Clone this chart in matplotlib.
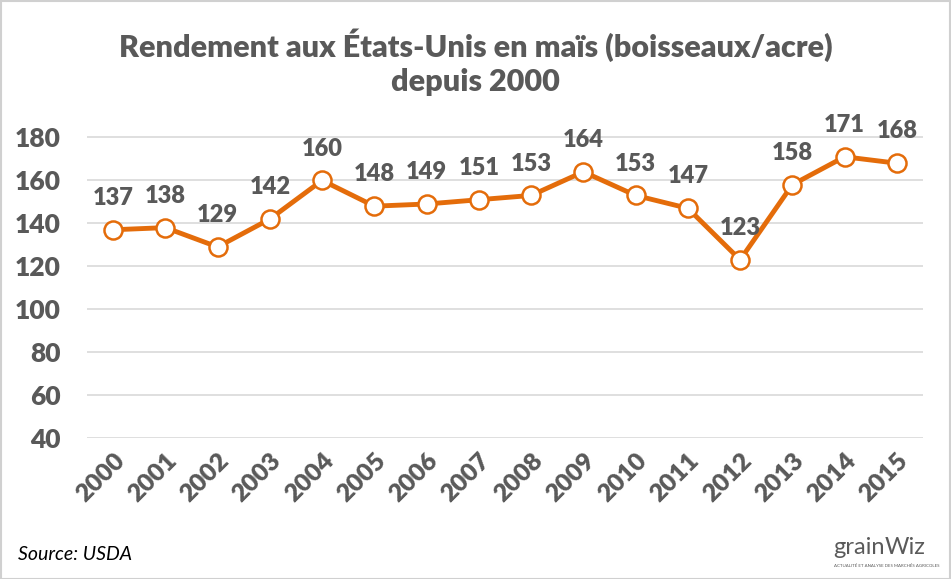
import matplotlib.pyplot as plt
from matplotlib.patches import Rectangle

years = ['2000', '2001', '2002', '2003', '2004', '2005', '2006', '2007',
         '2008', '2009', '2010', '2011', '2012', '2013', '2014', '2015']
yields = [137, 138, 129, 142, 160, 148, 149, 151, 153, 164, 153, 147, 123, 158, 171, 168]
yticks = [40, 60, 80, 100, 120, 140, 160, 180]

plt.rcParams['font.family'] = ['Lato', 'DejaVu Sans']
grey = '#595959'
orange = '#E46C0A'

W, H = 951, 579
fig = plt.figure(figsize=(W / 100, H / 100), dpi=100)
ax = fig.add_axes([87 / W, 1 - 438 / H, (923 - 87) / W, (438 - 116) / H])

x = list(range(len(years)))
ax.plot(x, yields, color=orange, lw=3.5, marker='o', ms=13,
        mfc='white', mec=orange, mew=1.8, zorder=3, clip_on=False)
for xi, v in zip(x, yields):
    ax.annotate(str(v), (xi, v), xytext=(0, 15), textcoords='offset points',
                ha='center', va='bottom', fontsize=17, fontweight='heavy', color=grey)

ax.set_xlim(-0.5, len(years) - 0.5)
ax.set_ylim(40, 190)
ax.set_yticks(yticks)
ax.set_yticklabels([str(t) for t in yticks], fontsize=19, fontweight='heavy', color=grey)
ax.set_xticks(x)
ax.set_xticklabels(years, rotation=45, ha='right', rotation_mode='anchor',
                   fontsize=18, fontweight='heavy', color=grey)
ax.tick_params(axis='y', length=0, pad=19)
ax.tick_params(axis='x', length=0, pad=8)
ax.grid(axis='y', color='#d9d9d9', lw=1.2)
ax.set_axisbelow(True)
for s in ax.spines.values():
    s.set_visible(False)

fig.text(0.5, 1 - 45 / H, 'Rendement aux États-Unis en maïs (boisseaux/acre)',
         ha='center', va='center', fontsize=22, fontweight='heavy', color=grey)
fig.text(0.5, 1 - 82 / H, 'depuis 2000',
         ha='center', va='center', fontsize=22, fontweight='heavy', color=grey)
fig.text(18 / W, 1 - 555 / H, 'Source: USDA', ha='left', va='center',
         fontsize=14, style='italic', color='black')

# logo approximation
fig.text(885 / W, 1 - 548 / H, 'grain', ha='right', va='center',
         fontsize=17, color='#5a5a5a')
fig.text(885 / W, 1 - 548 / H, 'Wiz', ha='left', va='center',
         fontsize=17, color='#5a5a5a')
fig.text(887 / W, 1 - 566 / H, 'ACTUALITÉ ET ANALYSE DES MARCHÉS AGRICOLES',
         ha='center', va='center', fontsize=3.2, color='#5a5a5a')

fig.patches.append(Rectangle((0.5 / W, 0.5 / H), 1 - 1.5 / W, 1 - 1.5 / H,
                             transform=fig.transFigure, fill=False,
                             ec='#d0d0d0', lw=1.5))

fig.savefig('out.png', dpi=100)
